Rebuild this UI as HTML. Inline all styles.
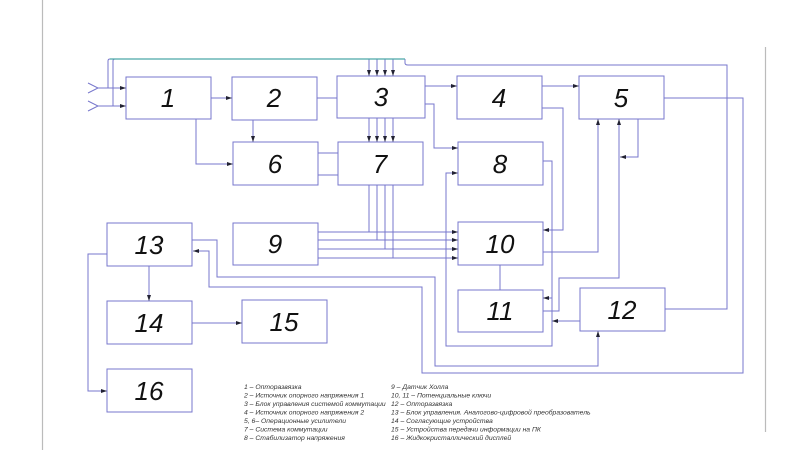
<!DOCTYPE html>
<html><head><meta charset="utf-8"><style>
html,body{margin:0;padding:0;background:#fff;}
svg{display:block;}
text.n{font-family:"Liberation Sans",sans-serif;font-style:italic;font-size:26px;fill:#111;text-anchor:middle;}
text.l{font-family:"Liberation Sans",sans-serif;font-style:italic;font-size:6.8px;fill:#333;}
</style></head><body>
<svg width="800" height="450" viewBox="0 0 800 450" xmlns="http://www.w3.org/2000/svg">
<defs><marker id="a" markerWidth="6" markerHeight="4" refX="6" refY="2" orient="auto" markerUnits="userSpaceOnUse"><path d="M0,0 L6,2 L0,4z" fill="#223"/></marker></defs>
<line x1="42.5" y1="0" x2="42.5" y2="450" stroke="#bbb" stroke-width="1.2"/>
<line x1="765.5" y1="47" x2="765.5" y2="432" stroke="#bbb" stroke-width="1.2"/>
<g fill="none" stroke="#7777cc" stroke-width="1">
<rect x="126" y="77" width="85" height="42"/>
<rect x="232" y="77" width="85" height="43"/>
<rect x="337" y="76" width="88" height="42"/>
<rect x="457" y="76" width="85" height="43"/>
<rect x="579" y="76" width="85" height="43"/>
<rect x="233" y="142" width="85" height="43"/>
<rect x="338" y="142" width="85" height="43"/>
<rect x="458" y="142" width="85" height="43"/>
<rect x="233" y="223" width="85" height="42"/>
<rect x="458" y="222" width="85" height="43"/>
<rect x="458" y="290" width="85" height="42"/>
<rect x="580" y="288" width="85" height="43"/>
<rect x="107" y="223" width="85" height="43"/>
<rect x="107" y="301" width="85" height="43"/>
<rect x="242" y="300" width="85" height="43"/>
<rect x="107" y="369" width="85" height="43"/>
<polyline points="88,83 98,88 88,93"/>
<polyline points="88,101 98,106 88,111"/>
<path d="M98,88H126" marker-end="url(#a)"/>
<path d="M98,106H126" marker-end="url(#a)"/>
<path d="M108,88V61Q108,59 110,59"/>
<path d="M113,106V61Q113,59 115,59"/>
<path d="M405,59V63Q405,65 408,65H727V309H665"/>
<path d="M369,59V76" marker-end="url(#a)"/><path d="M377,59V76" marker-end="url(#a)"/><path d="M385,59V76" marker-end="url(#a)"/><path d="M393,59V76" marker-end="url(#a)"/>
<path d="M211,98H232" marker-end="url(#a)"/>
<path d="M317,98H337"/>
<path d="M196,119V164H233" marker-end="url(#a)"/>
<path d="M253,120V142" marker-end="url(#a)"/>
<path d="M318,153H338M318,175H338"/>
<path d="M369,118V142" marker-end="url(#a)"/><path d="M377,118V142" marker-end="url(#a)"/><path d="M385,118V142" marker-end="url(#a)"/><path d="M393,118V142" marker-end="url(#a)"/>
<path d="M369,185V232"/><path d="M377,185V240"/><path d="M385,185V249"/><path d="M393,185V258"/>
<path d="M318,232H458" marker-end="url(#a)"/><path d="M318,240H458" marker-end="url(#a)"/><path d="M318,249H458" marker-end="url(#a)"/><path d="M318,258H458" marker-end="url(#a)"/>
<path d="M425,86H457" marker-end="url(#a)"/>
<path d="M425,104H434V148H458" marker-end="url(#a)"/>
<path d="M542,86H579" marker-end="url(#a)"/>
<path d="M542,108H563V230H543" marker-end="url(#a)"/>
<path d="M664,98H743V373H422V287H209V251H193" marker-end="url(#a)"/>
<path d="M192,240H217V277H435V366H598V331" marker-end="url(#a)"/>
<path d="M638,119V157H620" marker-end="url(#a)"/>
<path d="M543,311H559V278H619V119" marker-end="url(#a)"/>
<path d="M543,252H598V119" marker-end="url(#a)"/>
<path d="M543,161H552V346H446V173H458" marker-end="url(#a)"/>
<path d="M552,298H543" marker-end="url(#a)"/>
<path d="M580,321H552" marker-end="url(#a)"/>
<path d="M500,265V290"/>
<path d="M107,254H88V391H107" marker-end="url(#a)"/>
<path d="M149,266V301" marker-end="url(#a)"/>
<path d="M192,323H242" marker-end="url(#a)"/>
</g>
<line x1="110" y1="59" x2="405" y2="59" stroke="#4aa6a6" stroke-width="1.3"/>
<text class="n" x="168" y="107">1</text>
<text class="n" x="274" y="107">2</text>
<text class="n" x="381" y="106">3</text>
<text class="n" x="499" y="107">4</text>
<text class="n" x="621" y="107">5</text>
<text class="n" x="275" y="173">6</text>
<text class="n" x="380" y="173">7</text>
<text class="n" x="500" y="173">8</text>
<text class="n" x="275" y="253">9</text>
<text class="n" x="500" y="253">10</text>
<text class="n" x="500" y="320">11</text>
<text class="n" x="622" y="319">12</text>
<text class="n" x="149" y="254">13</text>
<text class="n" x="149" y="332">14</text>
<text class="n" x="284" y="331">15</text>
<text class="n" x="149" y="400">16</text>
<text class="l" x="244" y="389">1 – Оптоpазвязка</text>
<text class="l" x="244" y="397.5">2 – Источник опорного напряжения 1</text>
<text class="l" x="244" y="406">3 – Блок управления системой коммутации</text>
<text class="l" x="244" y="414.5">4 – Источник опорного напряжения 2</text>
<text class="l" x="244" y="423">5, 6– Операционные усилители</text>
<text class="l" x="244" y="431.5">7 – Система коммутации</text>
<text class="l" x="244" y="440">8 – Стабилизатор напряжения</text>
<text class="l" x="391" y="389">9 – Датчик Холла</text>
<text class="l" x="391" y="397.5">10, 11 – Потенциальные ключи</text>
<text class="l" x="391" y="406">12 – Оптоpазвязка</text>
<text class="l" x="391" y="414.5">13 – Блок управления. Аналогово-цифровой преобразователь</text>
<text class="l" x="391" y="423">14 – Согласующие устройства</text>
<text class="l" x="391" y="431.5">15 – Устройства передачи информации на ПК</text>
<text class="l" x="391" y="440">16 – Жидкокристаллический дисплей</text>
</svg>
</body></html>
